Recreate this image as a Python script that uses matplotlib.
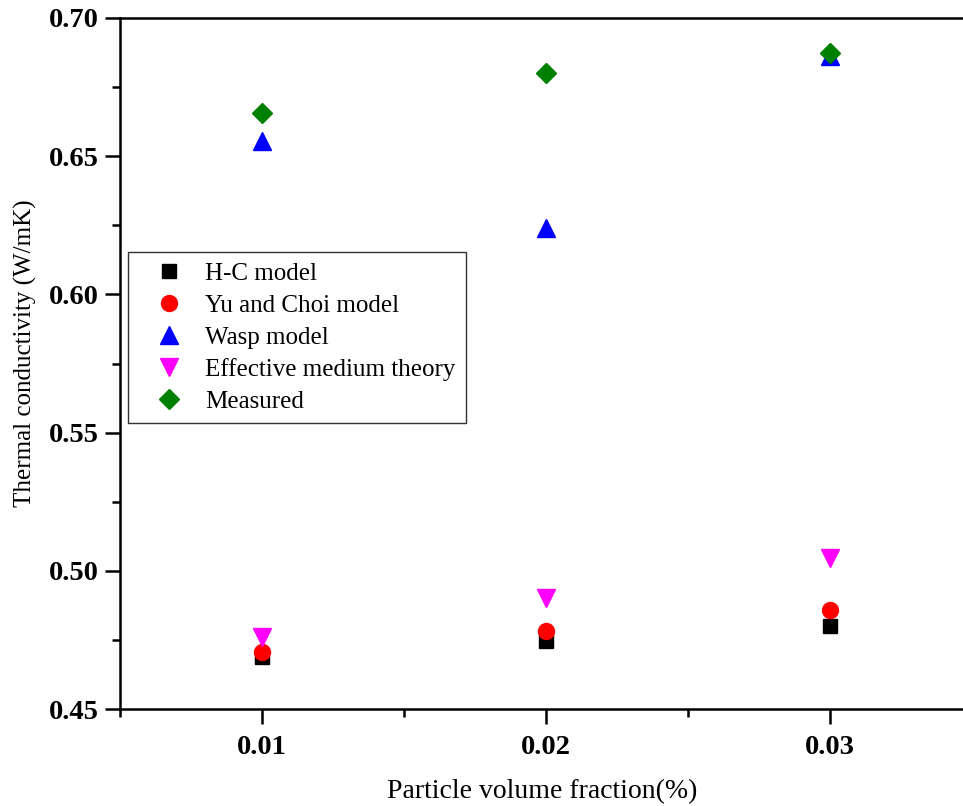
import numpy as np
import matplotlib
matplotlib.use("Agg")
import matplotlib.pyplot as plt
from matplotlib.ticker import MultipleLocator

plt.rcParams['font.family'] = ['Liberation Serif', 'DejaVu Serif']

# datos
fraction = [0.01, 0.02, 0.03]
hc_model = [0.4688, 0.4746, 0.4800]
yu_choi = [0.4706, 0.4782, 0.4860]
wasp = [0.6556, 0.6242, 0.6862]
emt = [0.4762, 0.4903, 0.5045]
measured = [0.6655, 0.6800, 0.6875]

fig = plt.figure(figsize=(9.63, 8.06), dpi=100)
ax = fig.add_axes([0.1246, 0.1203, 0.8847, 0.8574])

ax.plot(fraction, hc_model, 's', color='black', ms=9.5, label='H-C model')
ax.plot(fraction, yu_choi, 'o', color='red', ms=11.5, label='Yu and Choi model')
ax.plot(fraction, wasp, '^', color='blue', ms=13.5, label='Wasp model')
ax.plot(fraction, emt, 'v', color='magenta', ms=13.5, label='Effective medium theory')
ax.plot(fraction, measured, 'D', color='green', ms=10.5, label='Measured')

ax.set_xlim(0.005, 0.035)
ax.set_ylim(0.45, 0.70)
ax.xaxis.set_major_locator(MultipleLocator(0.01))
ax.xaxis.set_minor_locator(MultipleLocator(0.005))
ax.yaxis.set_major_locator(MultipleLocator(0.05))
ax.yaxis.set_minor_locator(MultipleLocator(0.025))
ax.xaxis.set_major_formatter(plt.FormatStrFormatter('%.2f'))
ax.yaxis.set_major_formatter(plt.FormatStrFormatter('%.2f'))

for s in ax.spines.values():
    s.set_linewidth(1.8)
ax.spines['right'].set_visible(False)

ax.tick_params(which='major', direction='out', length=11, width=1.8, labelsize=20.5)
ax.tick_params(which='minor', direction='out', length=6, width=1.8)
ax.tick_params(axis='y', which='major', pad=4)
ax.tick_params(axis='x', which='major', pad=8)
for lab in ax.get_xticklabels() + ax.get_yticklabels():
    lab.set_fontweight('bold')

ax.set_xlabel('Particle volume fraction(%)', fontsize=20)
ax.xaxis.set_label_coords(0.496, -0.102)
ax.set_ylabel('Thermal conductivity (W/mK)', fontsize=18)
ax.yaxis.set_label_coords(-0.097, 0.515)

leg = ax.legend(loc='upper left', bbox_to_anchor=(0.0094, 0.661), fontsize=18,
                frameon=True, fancybox=False, edgecolor='black',
                handletextpad=0.2, borderpad=0.4, labelspacing=0.38,
                handlelength=2.5, borderaxespad=0)
leg.get_frame().set_linewidth(1.0)

fig.savefig('out.png', dpi=100)
